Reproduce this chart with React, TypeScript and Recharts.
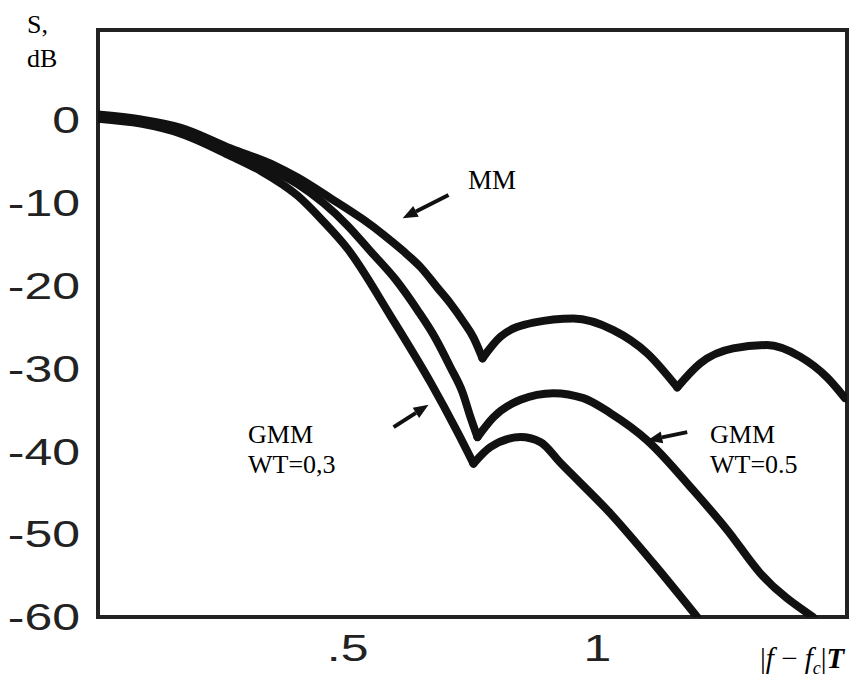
import React from "react";
import {
  LineChart,
  Line,
  XAxis,
  YAxis,
  ReferenceArea,
  ReferenceLine,
} from "recharts";

// |f - fc|T vs S (dB)
const MM_POINTS: [number, number][] = [
  [0, 0.6], [0.086, 0.0], [0.166, -1.0], [0.266, -3.5], [0.352, -5.5],
  [0.4, -7.0], [0.466, -9.5], [0.532, -12.1], [0.572, -13.9], [0.612, -15.9],
  [0.646, -17.8], [0.68, -20.3], [0.706, -22.2], [0.732, -24.4], [0.752, -26.3],
  [0.77, -28.8], [0.806, -26.2], [0.872, -24.5], [0.952, -24.0], [1.032, -25.4],
  [1.1, -28.2], [1.16, -32.3], [1.206, -29.4], [1.272, -27.6], [1.34, -27.2],
  [1.406, -28.6], [1.46, -31.1], [1.496, -33.6],
];
const MM_NOTCHES = [0.77, 1.16];

const GMM05_POINTS: [number, number][] = [
  [0, 0.3], [0.086, -0.3], [0.166, -1.4], [0.266, -3.9], [0.352, -6.2],
  [0.4, -7.8], [0.452, -10.1], [0.5, -12.8], [0.546, -15.9], [0.596, -19.3],
  [0.64, -23.0], [0.676, -26.4], [0.706, -29.9], [0.73, -32.9], [0.746, -35.9],
  [0.76, -38.3], [0.792, -35.9], [0.846, -33.8], [0.912, -33.0], [0.972, -33.6],
  [1.026, -35.4], [1.1, -38.7], [1.192, -44.7], [1.26, -49.5], [1.326, -54.7],
  [1.432, -60],
];
const GMM05_NOTCHES = [0.76];

const GMM03_POINTS: [number, number][] = [
  [0, 0.1], [0.086, -0.5], [0.166, -1.7], [0.266, -4.4], [0.326, -6.2],
  [0.4, -9.2], [0.45, -12.2], [0.5, -15.6], [0.586, -23.7], [0.666, -31.7],
  [0.72, -37.7], [0.752, -41.5], [0.786, -39.5], [0.846, -38.3], [0.886, -38.9],
  [0.926, -41.4], [1.026, -47.5], [1.112, -53.5], [1.2, -60],
];
const GMM03_NOTCHES = [0.752];

const X_TICKS = [0.5, 1];
const X_TICK_LABELS = [".5", "1"];
const Y_TICKS = [0, -10, -20, -30, -40, -50, -60];

// arrows: [tail x, tail y, tip x, tip y] in data units
const ARROWS: [number, number, number, number][] = [
  [0.702, -9.1, 0.61, -11.9],
  [0.592, -37.1, 0.662, -34.4],
  [1.18, -37.7, 1.1, -38.7],
];

// split a curve into its lobes so the nulls stay sharp
const toLobes = (pts: [number, number][], notches: number[]) => {
  const lobes: { x: number; y: number }[][] = [];
  let cur: { x: number; y: number }[] = [];
  pts.forEach(([x, y]) => {
    cur.push({ x, y });
    if (notches.includes(x)) {
      lobes.push(cur);
      cur = [{ x, y }];
    }
  });
  if (cur.length > 1) lobes.push(cur);
  return lobes;
};

const SEGMENTS = [
  ...toLobes(MM_POINTS, MM_NOTCHES),
  ...toLobes(GMM05_POINTS, GMM05_NOTCHES),
  ...toLobes(GMM03_POINTS, GMM03_NOTCHES),
];

const INK = "#111";
const SANS = "'Liberation Sans', Arial, sans-serif";
const SERIF = "'Liberation Serif', 'Times New Roman', serif";

const YTick = ({ x, y, payload }: any) => (
  <text
    transform={`translate(${x},${y}) scale(1.35,1)`}
    textAnchor="end"
    dy="0.36em"
    fontFamily={SANS}
    fontSize={37}
    fill="#222"
  >
    {payload.value}
  </text>
);

const XTick = ({ x, y, payload }: any) => {
  const i = X_TICKS.indexOf(payload.value);
  return (
    <text
      transform={`translate(${x},${y}) scale(1.35,1)`}
      textAnchor="middle"
      dy="0.36em"
      fontFamily={SANS}
      fontSize={37}
      fill="#222"
    >
      {i >= 0 ? X_TICK_LABELS[i] : payload.value}
    </text>
  );
};

const ArrowShape = (props: any) => {
  const { x1, y1, x2, y2 } = props;
  if ([x1, y1, x2, y2].some((v) => typeof v !== "number")) return null;
  const ang = Math.atan2(y2 - y1, x2 - x1);
  const len = 15;
  const half = 6;
  const bx = x2 - len * Math.cos(ang);
  const by = y2 - len * Math.sin(ang);
  const px = -Math.sin(ang) * half;
  const py = Math.cos(ang) * half;
  return (
    <g>
      <line x1={x1} y1={y1} x2={bx} y2={by} stroke={INK} strokeWidth={4} />
      <polygon
        points={`${x2},${y2} ${bx + px},${by + py} ${bx - px},${by - py}`}
        fill={INK}
      />
    </g>
  );
};

const App = () => {
  return (
    <div
      style={{
        position: "absolute",
        left: 0,
        top: 0,
        width: 866,
        height: 677,
        background: "#fff",
      }}
    >
      <LineChart
        width={866}
        height={677}
        margin={{ top: 30, right: 19, bottom: 0, left: 0 }}
      >
        <XAxis
          dataKey="x"
          type="number"
          domain={[0, 1.5]}
          ticks={X_TICKS}
          tick={<XTick />}
          tickSize={0}
          tickMargin={31}
          axisLine={false}
          height={60}
          allowDataOverflow
        />
        <YAxis
          type="number"
          domain={[-60, 10.8]}
          ticks={Y_TICKS}
          tick={<YTick />}
          tickSize={0}
          tickMargin={18}
          axisLine={false}
          width={98}
          allowDataOverflow
        />
        <ReferenceArea
          x1={0}
          x2={1.5}
          y1={-60}
          y2={10.8}
          fill="none"
          stroke="#222"
          strokeWidth={4}
          fillOpacity={0}
        />
        {SEGMENTS.map((seg, i) => (
          <Line
            key={i}
            data={seg}
            dataKey="y"
            type="monotone"
            stroke={INK}
            strokeWidth={8}
            strokeLinejoin="round"
            strokeLinecap="round"
            dot={false}
            isAnimationActive={false}
          />
        ))}
        {ARROWS.map(([ax, ay, bx, by], i) => (
          <ReferenceLine
            key={i}
            segment={[
              { x: ax, y: ay },
              { x: bx, y: by },
            ]}
            shape={<ArrowShape />}
          />
        ))}
      </LineChart>
      <svg
        width={866}
        height={677}
        style={{ position: "absolute", left: 0, top: 0, pointerEvents: "none" }}
      >
        <g fontFamily={SERIF} fill="#000">
          <text x={27} y={33} fontSize={26}>S,</text>
          <text x={27} y={67} fontSize={26}>dB</text>
          <text x={468} y={189} fontSize={27}>MM</text>
          <text x={248} y={443} fontSize={26}>GMM</text>
          <text x={248} y={473} fontSize={26}>WT=0,3</text>
          <text x={710} y={443} fontSize={26}>GMM</text>
          <text x={710} y={473} fontSize={26}>WT=0.5</text>
          <text x={760} y={668} fontSize={29}>
            <tspan fontStyle="normal">|</tspan>
            <tspan fontStyle="italic">f</tspan>
            <tspan> − </tspan>
            <tspan fontStyle="italic">f</tspan>
            <tspan fontStyle="italic" fontSize={18} dy={6}>c</tspan>
            <tspan dy={-6}>|</tspan>
            <tspan fontStyle="italic" fontWeight="bold">T</tspan>
          </text>
        </g>
      </svg>
    </div>
  );
};

export default App;
